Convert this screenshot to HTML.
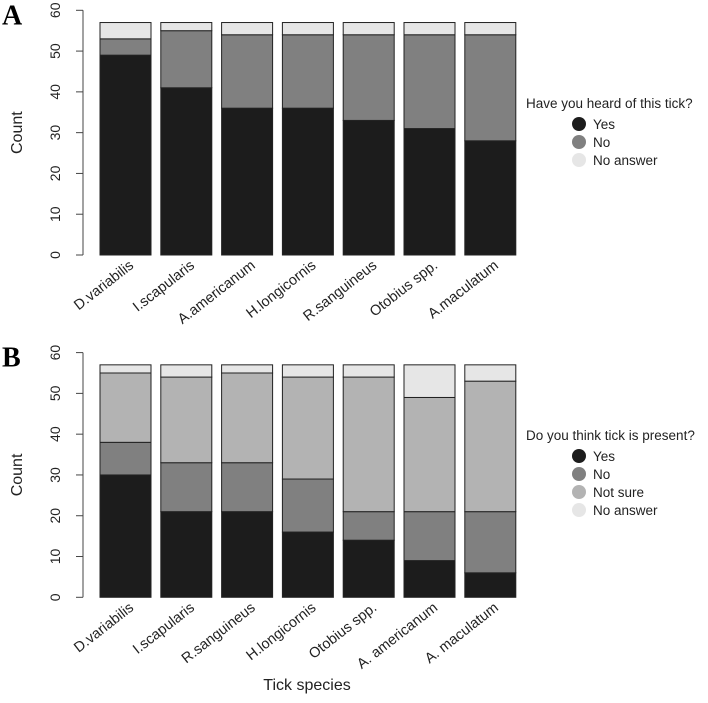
<!DOCTYPE html>
<html><head><meta charset="utf-8"><style>
body{margin:0;background:#fff;}
svg text{font-family:"Liberation Sans",sans-serif;fill:#222;}
</style></head><body>
<svg id="chart" width="708" height="698" xmlns="http://www.w3.org/2000/svg"></svg>
<script>
const catsA = ["D.variabilis","I.scapularis","A.americanum","H.longicornis","R.sanguineus","Otobius spp.","A.maculatum"];
const yesA = [49,41,36,36,33,31,28];
const noA = [4,14,18,18,21,23,26];
const naA = [4,2,3,3,3,3,3];
const catsB = ["D.variabilis","I.scapularis","R.sanguineus","H.longicornis","Otobius spp.","A. americanum","A. maculatum"];
const yesB = [30,21,21,16,14,9,6];
const noB = [8,12,12,13,7,12,15];
const notSureB = [17,21,22,25,33,28,32];
const naB = [2,3,2,3,3,8,4];
const yTicks = [0,10,20,30,40,50,60];
const legendA = ["Yes","No","No answer"];
const legendB = ["Yes","No","Not sure","No answer"];

const NS="http://www.w3.org/2000/svg";
const svg=document.getElementById('chart');
function mk(tag,attrs,parent){const e=document.createElementNS(NS,tag);for(const k in attrs)e.setAttribute(k,attrs[k]);(parent||svg).appendChild(e);return e;}

function panel(letter,y0,cats,series,colors,title,legendLabels,legTitleY,prefix){
  const g=mk('g',{});
  
  
  const yScale=v=>y0-v*(244.7/60);
  const step=60.8, bx0=100, bw=51;
  const xScale=i=>bx0+i*step;
  const L=mk('text',{x:2,y:yScale(60)+14,'font-size':28,'font-weight':'bold',style:'font-family:"Liberation Serif",serif;fill:#000'},g);
  L.textContent=letter;
  
  
  const ax=mk('g',{},g);
  
  
  mk('line',{x1:83,x2:83,y1:yScale(0),y2:yScale(60),stroke:'#444','stroke-width':1},ax);
  yTicks.forEach(t=>{
    mk('line',{x1:76,x2:83,y1:yScale(t),y2:yScale(t),stroke:'#444'},ax);
    const tx=mk('text',{x:0,y:0,'font-size':14,'text-anchor':'middle',transform:`translate(60,${yScale(t)}) rotate(-90)`},ax);
    tx.textContent=t;
    
    
  });
  const yt=mk('text',{x:0,y:0,'font-size':16,'text-anchor':'middle',transform:`translate(22,${yScale(30)}) rotate(-90)`},g);
  yt.textContent='Count';
  
  
  cats.forEach((c,i)=>{
    let acc=0;
    series.forEach((s,k)=>{
      const v=s[i];
      const r=mk('rect',{x:xScale(i),y:yScale(acc+v),width:bw,height:yScale(acc)-yScale(acc+v),fill:colors[k],stroke:'#222','stroke-width':1},g);
      
      
      acc+=v;
    });
    const lab=mk('text',{x:0,y:0,'font-size':14.5,'text-anchor':'end',transform:`translate(${xScale(i)+bw/2+9},${y0+12}) rotate(-38)`},g);
    lab.textContent=c;
    
    
  });
  const lg=mk('g',{},g);
  
  
  const lt=mk('text',{x:526,y:legTitleY+5,'font-size':13.5},lg);
  lt.textContent=title;
  
  
  legendLabels.forEach((l,k)=>{
    const cy=legTitleY+21+k*18;
    const c=mk('circle',{cx:579,cy:cy,r:7,fill:colors[k]},lg);
    
    
    const t=mk('text',{x:593,y:cy+5,'font-size':13.5},lg);
    t.textContent=l;
    
    
  });
}
panel('A',255,catsA,[yesA,noA,naA],['#1c1c1c','#808080','#e6e6e6'],'Have you heard of this tick?',legendA,103,'a');
panel('B',597.3,catsB,[yesB,noB,notSureB,naB],['#1c1c1c','#808080','#b3b3b3','#e6e6e6'],'Do you think tick is present?',legendB,435,'b');
const xt=mk('text',{x:307,y:690,'font-size':16,'text-anchor':'middle'});
xt.textContent='Tick species';


</script>
</body></html>
